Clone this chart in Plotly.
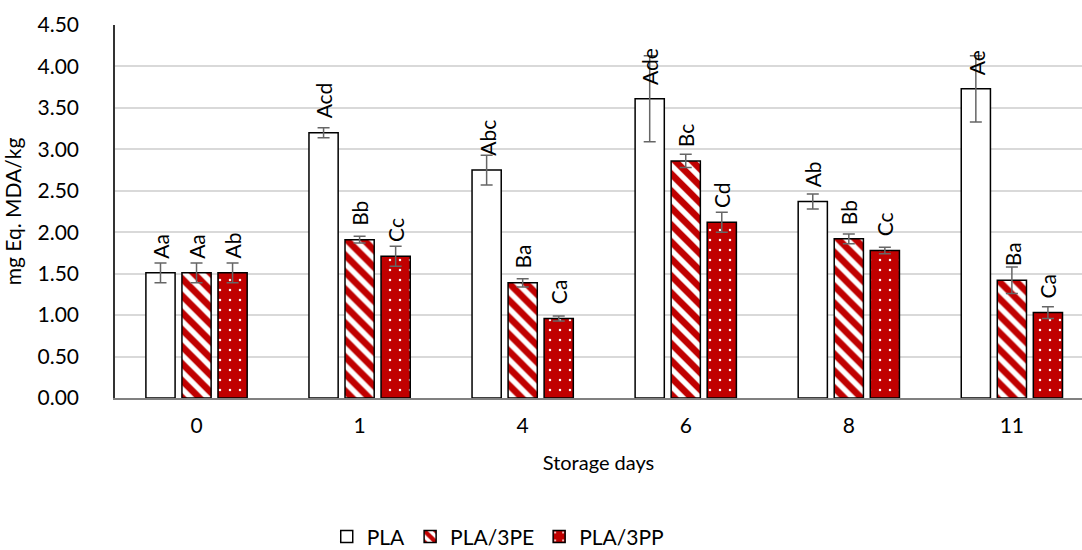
import plotly.graph_objects as go

days = ["0", "1", "4", "6", "8", "11"]
series_names = ["PLA", "PLA/3PE", "PLA/3PP"]
pla = [1.51, 3.20, 2.75, 3.61, 2.37, 3.73]
pla_err = [0.12, 0.06, 0.18, 0.52, 0.09, 0.40]
pe = [1.51, 1.91, 1.39, 2.86, 1.92, 1.42]
pe_err = [0.12, 0.04, 0.05, 0.08, 0.06, 0.16]
pp = [1.51, 1.71, 0.96, 2.12, 1.78, 1.03]
pp_err = [0.12, 0.12, 0.03, 0.12, 0.04, 0.07]
pla_lbl = ["Aa", "Acd", "Abc", "Ade", "Ab", "Ae"]
pe_lbl = ["Aa", "Bb", "Ba", "Bc", "Bb", "Ba"]
pp_lbl = ["Ab", "Cc", "Ca", "Cd", "Cc", "Ca"]

RED = "#C00000"
FONT = "Lato"
W, H = 1082, 550
ML, MR, MT, MB = 115, 0, 25, 152
BARGAP, GROUPGAP = 0.337, 0.19
XRANGE = [-0.5, 5.43]

err_style = dict(type="data", visible=True, color="#666666", thickness=1.5, width=6)

fig = go.Figure()
fig.add_trace(go.Bar(
    name=series_names[0], x=days, y=pla,
    error_y=dict(array=pla_err, **err_style),
    marker=dict(color="white", line=dict(color="black", width=1.5)),
))
fig.add_trace(go.Bar(
    name=series_names[1], x=days, y=pe,
    error_y=dict(array=pe_err, **err_style),
    marker=dict(color="white", line=dict(color="black", width=1.5),
                pattern=dict(shape="\\", fgcolor=RED, bgcolor="white", fgopacity=1,
                             size=12, solidity=0.55, fillmode="overlay")),
))
fig.add_trace(go.Bar(
    name=series_names[2], x=days, y=pp,
    error_y=dict(array=pp_err, **err_style),
    marker=dict(color=RED, line=dict(color="black", width=1.5),
                pattern=dict(shape=".", fgcolor="white", bgcolor=RED, fgopacity=1,
                             size=10, solidity=0.05, fillmode="overlay")),
))

# letter labels above bars (x given as category index)
plot_w = W - ML - MR
px_per_cat = plot_w / (XRANGE[1] - XRANGE[0])
slot = (1 - BARGAP) / 3 * px_per_cat
for i, (vals, lbls) in enumerate([(pla, pla_lbl), (pe, pe_lbl), (pp, pp_lbl)]):
    for k, (v, t) in enumerate(zip(vals, lbls)):
        fig.add_annotation(
            x=k, y=v, text=t, showarrow=False, textangle=-90,
            xshift=(i - 1) * slot, yshift=12, yanchor="bottom", xanchor="center",
            font=dict(family=FONT, size=21, color="black"),
        )

fig.update_layout(
    width=W, height=H,
    margin=dict(l=ML, r=MR, t=MT, b=MB),
    paper_bgcolor="white", plot_bgcolor="white",
    barmode="group", bargap=BARGAP, bargroupgap=GROUPGAP,
    font=dict(family=FONT, size=20, color="black"),
    showlegend=True,
    legend=dict(orientation="h", xref="container", yref="container",
                x=0.46, xanchor="center", y=0.024, yanchor="middle",
                font=dict(family=FONT, size=21, color="black"),
                itemwidth=30, traceorder="normal"),
    xaxis=dict(
        type="category", range=XRANGE, showgrid=False,
        showline=True, linecolor="#808080", linewidth=1.5,
        ticks="", tickfont=dict(size=21), ticklabelstandoff=8,
        title=dict(text="Storage days", font=dict(size=20), standoff=20),
    ),
    yaxis=dict(
        range=[0, 4.5], dtick=0.5, tickformat=".2f",
        showgrid=True, gridcolor="#d9d9d9", gridwidth=1.5,
        showline=True, linecolor="#333333", linewidth=1.5,
        zeroline=False, ticks="", tickfont=dict(size=21), ticklabelstandoff=30,
        title=dict(text="mg Eq. MDA/kg", font=dict(size=21), standoff=12),
    ),
)

fig.write_html("out.html")
